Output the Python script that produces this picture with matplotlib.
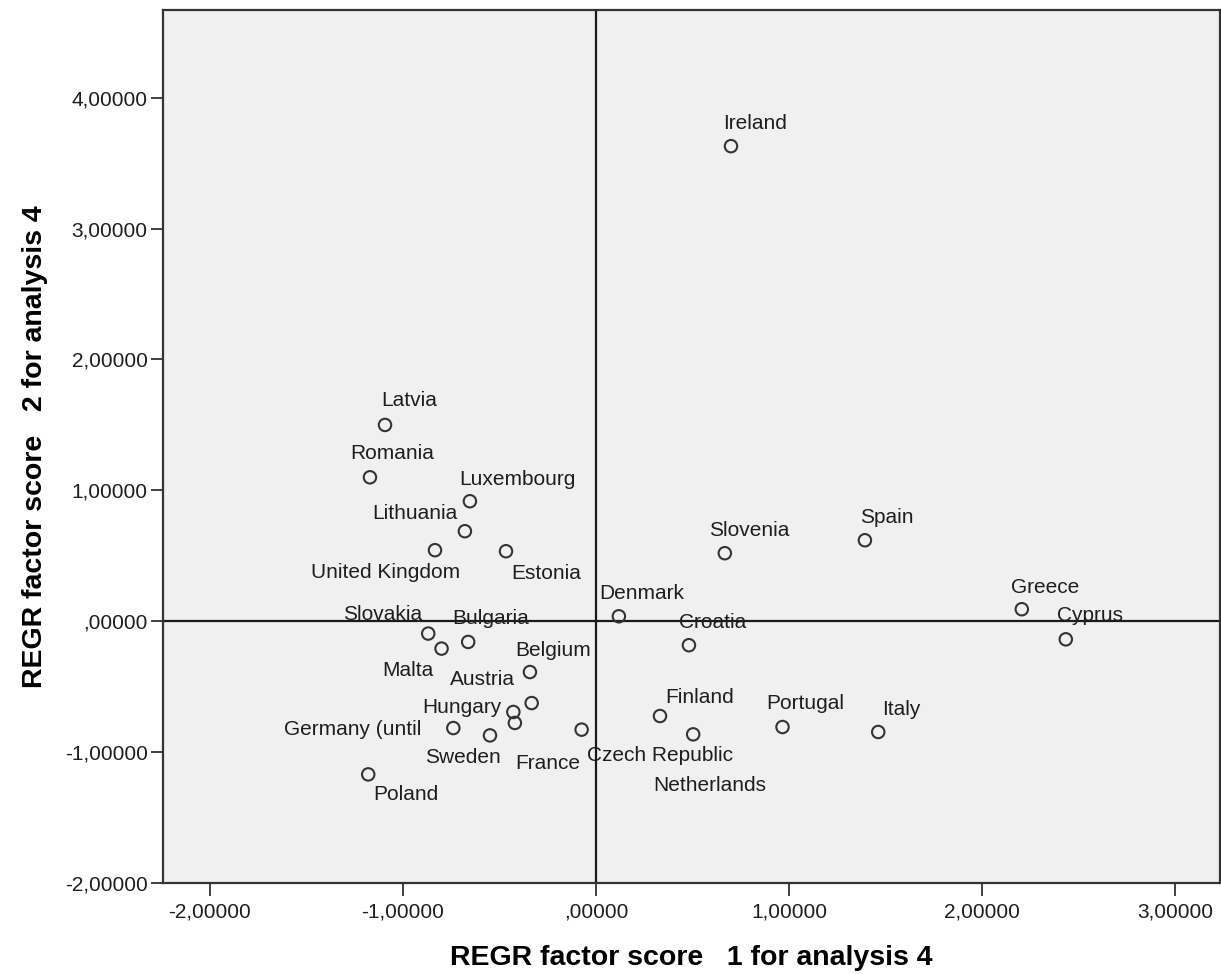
import matplotlib
matplotlib.use('Agg')
import matplotlib.pyplot as plt
from matplotlib.ticker import FixedLocator, FuncFormatter

# factor scores
countries = ['Ireland', 'Latvia', 'Romania', 'Luxembourg', 'Lithuania',
             'United Kingdom', 'Estonia', 'Slovenia', 'Spain', 'Greece',
             'Cyprus', 'Denmark', 'Croatia', 'Slovakia', 'Bulgaria', 'Malta',
             'Belgium', 'Austria', 'Hungary', 'Germany (until', 'Sweden',
             'France', 'Czech Republic', 'Finland', 'Netherlands', 'Portugal',
             'Italy', 'Poland']
score1 = [0.70, -1.093, -1.171, -0.653, -0.679, -0.834, -0.466, 0.668, 1.394,
          2.207, 2.435, 0.119, 0.482, -0.869, -0.662, -0.800, -0.342, -0.333,
          -0.428, -0.739, -0.549, -0.420, -0.074, 0.332, 0.504, 0.967, 1.463,
          -1.180]
score2 = [3.63, 1.50, 1.10, 0.917, 0.688, 0.543, 0.535, 0.520, 0.619, 0.092,
          -0.138, 0.038, -0.183, -0.094, -0.158, -0.209, -0.388, -0.625,
          -0.693, -0.816, -0.872, -0.777, -0.828, -0.724, -0.864, -0.808,
          -0.846, -1.170]
x_ticks = [-2, -1, 0, 1, 2, 3]
y_ticks = [-2, -1, 0, 1, 2, 3, 4]

# label offsets in pixels (layout only)
label_offsets = {
    'Ireland': (24, 23), 'Latvia': (24, 24), 'Romania': (22, 24),
    'Luxembourg': (48, 22), 'Lithuania': (-50, 18), 'United Kingdom': (-49, -22),
    'Estonia': (40, -22), 'Slovenia': (24, 23), 'Spain': (22, 23),
    'Greece': (23, 22), 'Cyprus': (24, 24), 'Denmark': (23, 23),
    'Croatia': (24, 23), 'Slovakia': (-46, 19), 'Bulgaria': (22, 23),
    'Malta': (-34, -22), 'Belgium': (23, 22), 'Austria': (-49, 24),
    'Hungary': (-51, 4), 'Germany (until': (-101, -1), 'Sweden': (-27, -22),
    'France': (33, -41), 'Czech Republic': (78, -26), 'Finland': (40, 19),
    'Netherlands': (17, -51), 'Portugal': (23, 24), 'Italy': (23, 22),
    'Poland': (38, -20),
}

fig = plt.figure(figsize=(12.21, 9.74), dpi=100)
fig.patch.set_facecolor('white')
ax = fig.add_axes([0.1335, 0.0934, 0.8655, 0.8963])
ax.set_facecolor('#f0f0f0')

ax.set_xlim(-2.2435, 3.233)
ax.set_ylim(-2.0, 4.67)

ax.axvline(0, color='#1a1a1a', lw=1.6, zorder=1)
ax.axhline(0, color='#1a1a1a', lw=1.6, zorder=1)

ax.scatter(score1, score2, s=80, facecolors='none', edgecolors='#333333',
           linewidths=1.5, zorder=3)

for name, x, y in zip(countries, score1, score2):
    dx, dy = label_offsets[name]
    ax.annotate(name, (x, y), xytext=(dx, dy), textcoords='offset pixels',
                ha='center', va='center', fontsize=15, color='#1e1e1e',
                family='Liberation Sans', zorder=4)


def spss_fmt(v, pos):
    s = '%.5f' % v
    s = s.replace('.', ',')
    if s.startswith('0,'):
        s = s[1:]
    elif s.startswith('-0,'):
        s = '-' + s[2:]
    return s


ax.xaxis.set_major_locator(FixedLocator(x_ticks))
ax.yaxis.set_major_locator(FixedLocator(y_ticks))
ax.xaxis.set_major_formatter(FuncFormatter(spss_fmt))
ax.yaxis.set_major_formatter(FuncFormatter(spss_fmt))
ax.tick_params(direction='out', length=9, width=1.3, color='#333333',
               labelsize=15, labelcolor='#1e1e1e')
ax.tick_params(axis='y', pad=2)
ax.tick_params(axis='x', pad=5)
for lab in ax.get_xticklabels() + ax.get_yticklabels():
    lab.set_family('Liberation Sans')

for side in ['top', 'right', 'bottom', 'left']:
    ax.spines[side].set_color('#333333')
    ax.spines[side].set_linewidth(1.6)

ax.set_xlabel('REGR factor score   1 for analysis 4', fontsize=20.5,
              fontweight='bold', family='Liberation Sans', labelpad=17)
ax.set_ylabel('REGR factor score   2 for analysis 4', fontsize=20.5,
              fontweight='bold', family='Liberation Sans', labelpad=12)

plt.savefig('out.png', dpi=100, facecolor='white')
plt.close()
